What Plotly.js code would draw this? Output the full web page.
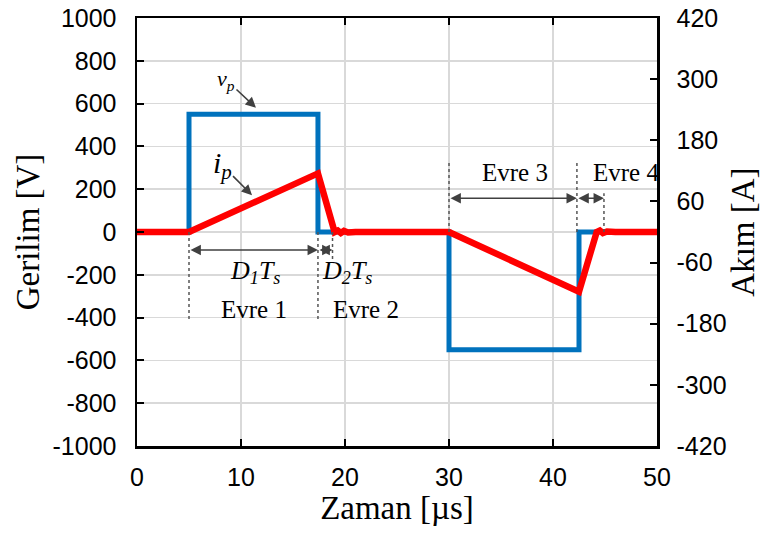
<!DOCTYPE html>
<html>
<head>
<meta charset="utf-8">
<script src="https://cdn.plot.ly/plotly-3.0.1.min.js"></script>
<style>html,body{margin:0;padding:0;background:#fff;}#chart{width:764px;height:534px;}</style>
</head>
<body>
<div id="chart"></div>
<script>
// Voltage vp (left axis, V)
const tV = [0, 5, 5, 17.4, 17.4, 30, 30, 42.5, 42.5, 50];
const vP = [0, 0, 550, 550, 0, 0, -550, -550, 0, 0];
// Current ip (right axis, A)
const tI = [0, 5, 17.4, 19.0, 19.3, 19.6, 19.9, 20.3, 21, 30, 42.5, 44.2, 44.5, 44.8, 45.2, 46, 50];
const iP = [0, 0, 115, 0, 3, -2, 2, -1, 0, 0, -117, 0, 3, -2, 1, 0, 0];
// Tick labels
const yTicks = [-1000, -800, -600, -400, -200, 0, 200, 400, 600, 800, 1000];
const y2Ticks = [-420, -300, -180, -60, 60, 180, 300, 420];
const xTicks = [0, 10, 20, 30, 40, 50];

const serif = '"Liberation Serif", "Times New Roman", serif';
const sans = '"Liberation Sans", Arial, sans-serif';
const arrowCol = '#404040';
const tickSize = 25;
const titleSize = 33;

const traces = [
  {x: tV, y: vP, type: 'scatter', mode: 'lines', line: {color: '#0072BD', width: 5}, yaxis: 'y', hoverinfo: 'skip'},
  {x: tI, y: iP, type: 'scatter', mode: 'lines', line: {color: '#FF0000', width: 6.5}, yaxis: 'y2', hoverinfo: 'skip'}
];

function dashLine(x, y0, y1) {
  return {type: 'line', xref: 'x', yref: 'y', x0: x, x1: x, y0: y0, y1: y1,
          line: {color: '#555', width: 1.5, dash: 'dot'}};
}
const shapes = [
  dashLine(5, 0, -420), dashLine(17.4, 0, -420), dashLine(18.8, 0, -140),
  dashLine(30, 0, 335), dashLine(42.3, 0, 335), dashLine(44.9, 0, 181)
];

function dblArrow(x0, x1, y) {
  return {x: x1, y: y, ax: x0, ay: y, xref: 'x', yref: 'y', axref: 'x', ayref: 'y',
          text: '', showarrow: true, arrowhead: 2, arrowside: 'end+start', arrowsize: 1.3,
          arrowwidth: 1.6, arrowcolor: arrowCol, standoff: 0, startstandoff: 0};
}
function label(x, y, txt, size) {
  return {x: x, y: y, xref: 'x', yref: 'y', text: txt, showarrow: false,
          font: {family: serif, size: size || 25, color: '#000'}};
}
const annotations = [
  dblArrow(5, 17.4, -84), dblArrow(17.4, 18.8, -84),
  dblArrow(30, 42.3, 158), dblArrow(42.3, 44.9, 158),
  label(11.35, -186, '<i>D<sub>1</sub>T<sub>s</sub></i>', 26),
  label(20.2, -186, '<i>D<sub>2</sub>T<sub>s</sub></i>', 26),
  label(11.25, -363, 'Evre 1'),
  label(22.0, -363, 'Evre 2'),
  label(36.35, 279, 'Evre 3'),
  label(47.0, 279, 'Evre 4'),
  {x: 11.44, y: 581, xref: 'x', yref: 'y', ax: -30, ay: -28, text: '<i>v<sub>p</sub></i>',
   showarrow: true, arrowhead: 2, arrowsize: 1.3, arrowwidth: 1.6, arrowcolor: arrowCol,
   font: {family: serif, size: 22, color: '#000'}},
  {x: 11.06, y: 172, xref: 'x', yref: 'y', ax: -30, ay: -30, text: '<i>i<sub>p</sub></i>',
   showarrow: true, arrowhead: 2, arrowsize: 1.3, arrowwidth: 1.6, arrowcolor: arrowCol,
   font: {family: serif, size: 30, color: '#000'}}
];

const layout = {
  width: 764, height: 534,
  margin: {l: 137, r: 107, t: 18, b: 88},
  paper_bgcolor: '#fff', plot_bgcolor: '#fff',
  showlegend: false,
  xaxis: {
    range: [0, 50], tickvals: xTicks, ticktext: xTicks.map(String),
    ticks: 'inside', ticklen: 7, tickwidth: 2, tickcolor: '#000', ticklabelstandoff: 7,
    showline: true, linecolor: '#000', linewidth: 2.5, mirror: 'ticks',
    showgrid: true, gridcolor: '#d9d9d9', gridwidth: 1.5, zeroline: false, automargin: false,
    tickfont: {family: sans, size: tickSize, color: '#000'},
    title: {text: 'Zaman [µs]', font: {family: serif, size: titleSize, color: '#000'}, standoff: 4}
  },
  yaxis: {
    range: [-1000, 1000], tickvals: yTicks, ticktext: yTicks.map(String),
    ticks: 'inside', ticklen: 7, tickwidth: 2, tickcolor: '#000', ticklabelstandoff: 13,
    showline: true, linecolor: '#000', linewidth: 2.5,
    showgrid: true, gridcolor: '#d9d9d9', gridwidth: 1.5, zeroline: false, automargin: false,
    tickfont: {family: sans, size: tickSize, color: '#000'},
    title: {text: 'Gerilim [V]', font: {family: serif, size: titleSize, color: '#000'}, standoff: 3}
  },
  yaxis2: {
    range: [-420, 420], tickvals: y2Ticks, ticktext: y2Ticks.map(String),
    overlaying: 'y', side: 'right',
    ticks: 'inside', ticklen: 7, tickwidth: 2, tickcolor: '#000', ticklabelstandoff: 12,
    showline: true, linecolor: '#000', linewidth: 2.5,
    showgrid: false, zeroline: false, automargin: false,
    tickfont: {family: sans, size: tickSize, color: '#000'},
    title: {text: 'Akım [A]', font: {family: serif, size: titleSize, color: '#000'}, standoff: 6}
  },
  shapes: shapes,
  annotations: annotations
};

Plotly.newPlot('chart', traces, layout, {displayModeBar: false, staticPlot: true});
</script>
</body>
</html>
